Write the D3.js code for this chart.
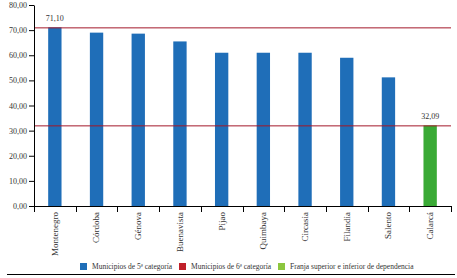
<!DOCTYPE html>
<html>
<head>
<meta charset="utf-8">
<script src="https://cdn.jsdelivr.net/npm/d3@7"></script>
<style>
  body { margin: 0; background: #fff; }
  text { font-family: "Liberation Serif", serif; fill: #333; }
</style>
</head>
<body>
<div class="canva"></div>
<script>
// datos
const municipios = ["Montenegro", "Córdoba", "Génova", "Buenavista", "Pijao",
                    "Quimbaya", "Circasia", "Filandia", "Salento", "Calarcá"];
const valores = [71.10, 69.0, 68.6, 65.5, 61.0, 61.0, 61.0, 59.0, 51.2, 32.09];
const grupo = [5, 5, 5, 5, 5, 5, 5, 5, 5, 0];
const lineas = [71.10, 32.09];
const yTicks = [0, 10, 20, 30, 40, 50, 60, 70, 80];
const leyenda = ["Municipios de 5ª categoría", "Municipios de 6ª categoría",
                 "Franja superior e inferior de dependencia"];
const leyendaColores = ["#1f6eb8", "#c0202a", "#8cc63f"];

const fmt = v => d3.format(".2f")(v).replace(".", ",");

const svg = d3.select(".canva").append("svg")
            .attr("width", 457)
            .attr("height", 278);

const margin = {top: 5, left: 34, right: 6, bottom: 72};

const g = svg.append("g")
             .attr("transform", `translate(${margin.left}, ${margin.top})`);

const x = d3.scaleBand()
            .domain(municipios)
            .range([0, 417])
            .paddingInner(0.68)
            .paddingOuter(0.34);

const y = d3.scaleLinear()
            .domain([0, 80])
            .range([201, 0]);

// barras
g.selectAll("rect.bar")
  .data(municipios)
  .enter()
  .append("rect")
  .attr("class", "bar")
  .attr("x", d => x(d))
  .attr("width", x.bandwidth())
  .attr("y", (d, i) => y(valores[i]))
  .attr("height", (d, i) => y(0) - y(valores[i]))
  .attr("fill", (d, i) => grupo[i] === 5 ? "#1f6eb8" : "#3aaa35");

// franjas
g.selectAll("line.franja")
  .data(lineas)
  .enter()
  .append("line")
  .attr("x1", 0)
  .attr("x2", 417)
  .attr("y1", d => y(d) + 0.5)
  .attr("y2", d => y(d) + 0.5)
  .attr("stroke", "#a3182a")
  .attr("stroke-width", 1);

// etiquetas de valor
const extremos = [0, municipios.length - 1];
g.selectAll("text.valor")
  .data(extremos)
  .enter()
  .append("text")
  .attr("x", i => x(municipios[i]) + x.bandwidth() / 2)
  .attr("y", i => y(valores[i]) - 6)
  .attr("text-anchor", "middle")
  .style("font-size", "8px")
  .text(i => fmt(valores[i]));

// eje y
const yAxis = g.append("g")
  .call(d3.axisLeft(y).tickValues(yTicks).tickFormat(fmt).tickSize(5).tickPadding(2));
yAxis.selectAll("text").style("font-size", "8px").attr("fill", "#333");
yAxis.selectAll("line, path").attr("stroke", "#000");
yAxis.select(".domain").attr("d", "M0.5,0.5V201.5");

// eje x
const xAxis = g.append("g")
  .attr("transform", `translate(0, ${y(0)})`)
  .call(d3.axisBottom(x).tickSize(0).tickPadding(0));
xAxis.select(".domain").attr("d", "M0,0.5H417.5").attr("stroke", "#000");
xAxis.selectAll(".tick text")
  .attr("transform", "rotate(-90)")
  .attr("text-anchor", "end")
  .attr("x", -6)
  .attr("y", 0)
  .attr("dy", "0.32em")
  .attr("fill", "#333")
  .style("font-size", "9px");

// marcas entre categorías
const separadores = d3.range(municipios.length + 1);
xAxis.selectAll("line.sep")
  .data(separadores)
  .enter()
  .append("line")
  .attr("x1", i => Math.round(i * x.step()) + 0.5)
  .attr("x2", i => Math.round(i * x.step()) + 0.5)
  .attr("y1", 0)
  .attr("y2", 6)
  .attr("stroke", "#000");

// leyenda
const leyendaX = [80, 179, 278];
const lg = svg.selectAll("g.leyenda")
  .data(leyenda)
  .enter()
  .append("g")
  .attr("transform", (d, i) => `translate(${leyendaX[i]}, 263)`);
lg.append("rect")
  .attr("width", 7)
  .attr("height", 7)
  .attr("fill", (d, i) => leyendaColores[i]);
lg.append("text")
  .attr("x", 12)
  .attr("y", 6)
  .style("font-size", "7.5px")
  .text(d => d);

svg.append("line")
  .attr("x1", 7)
  .attr("x2", 455)
  .attr("y1", 274.5)
  .attr("y2", 274.5)
  .attr("stroke", "#000");
</script>
</body>
</html>
